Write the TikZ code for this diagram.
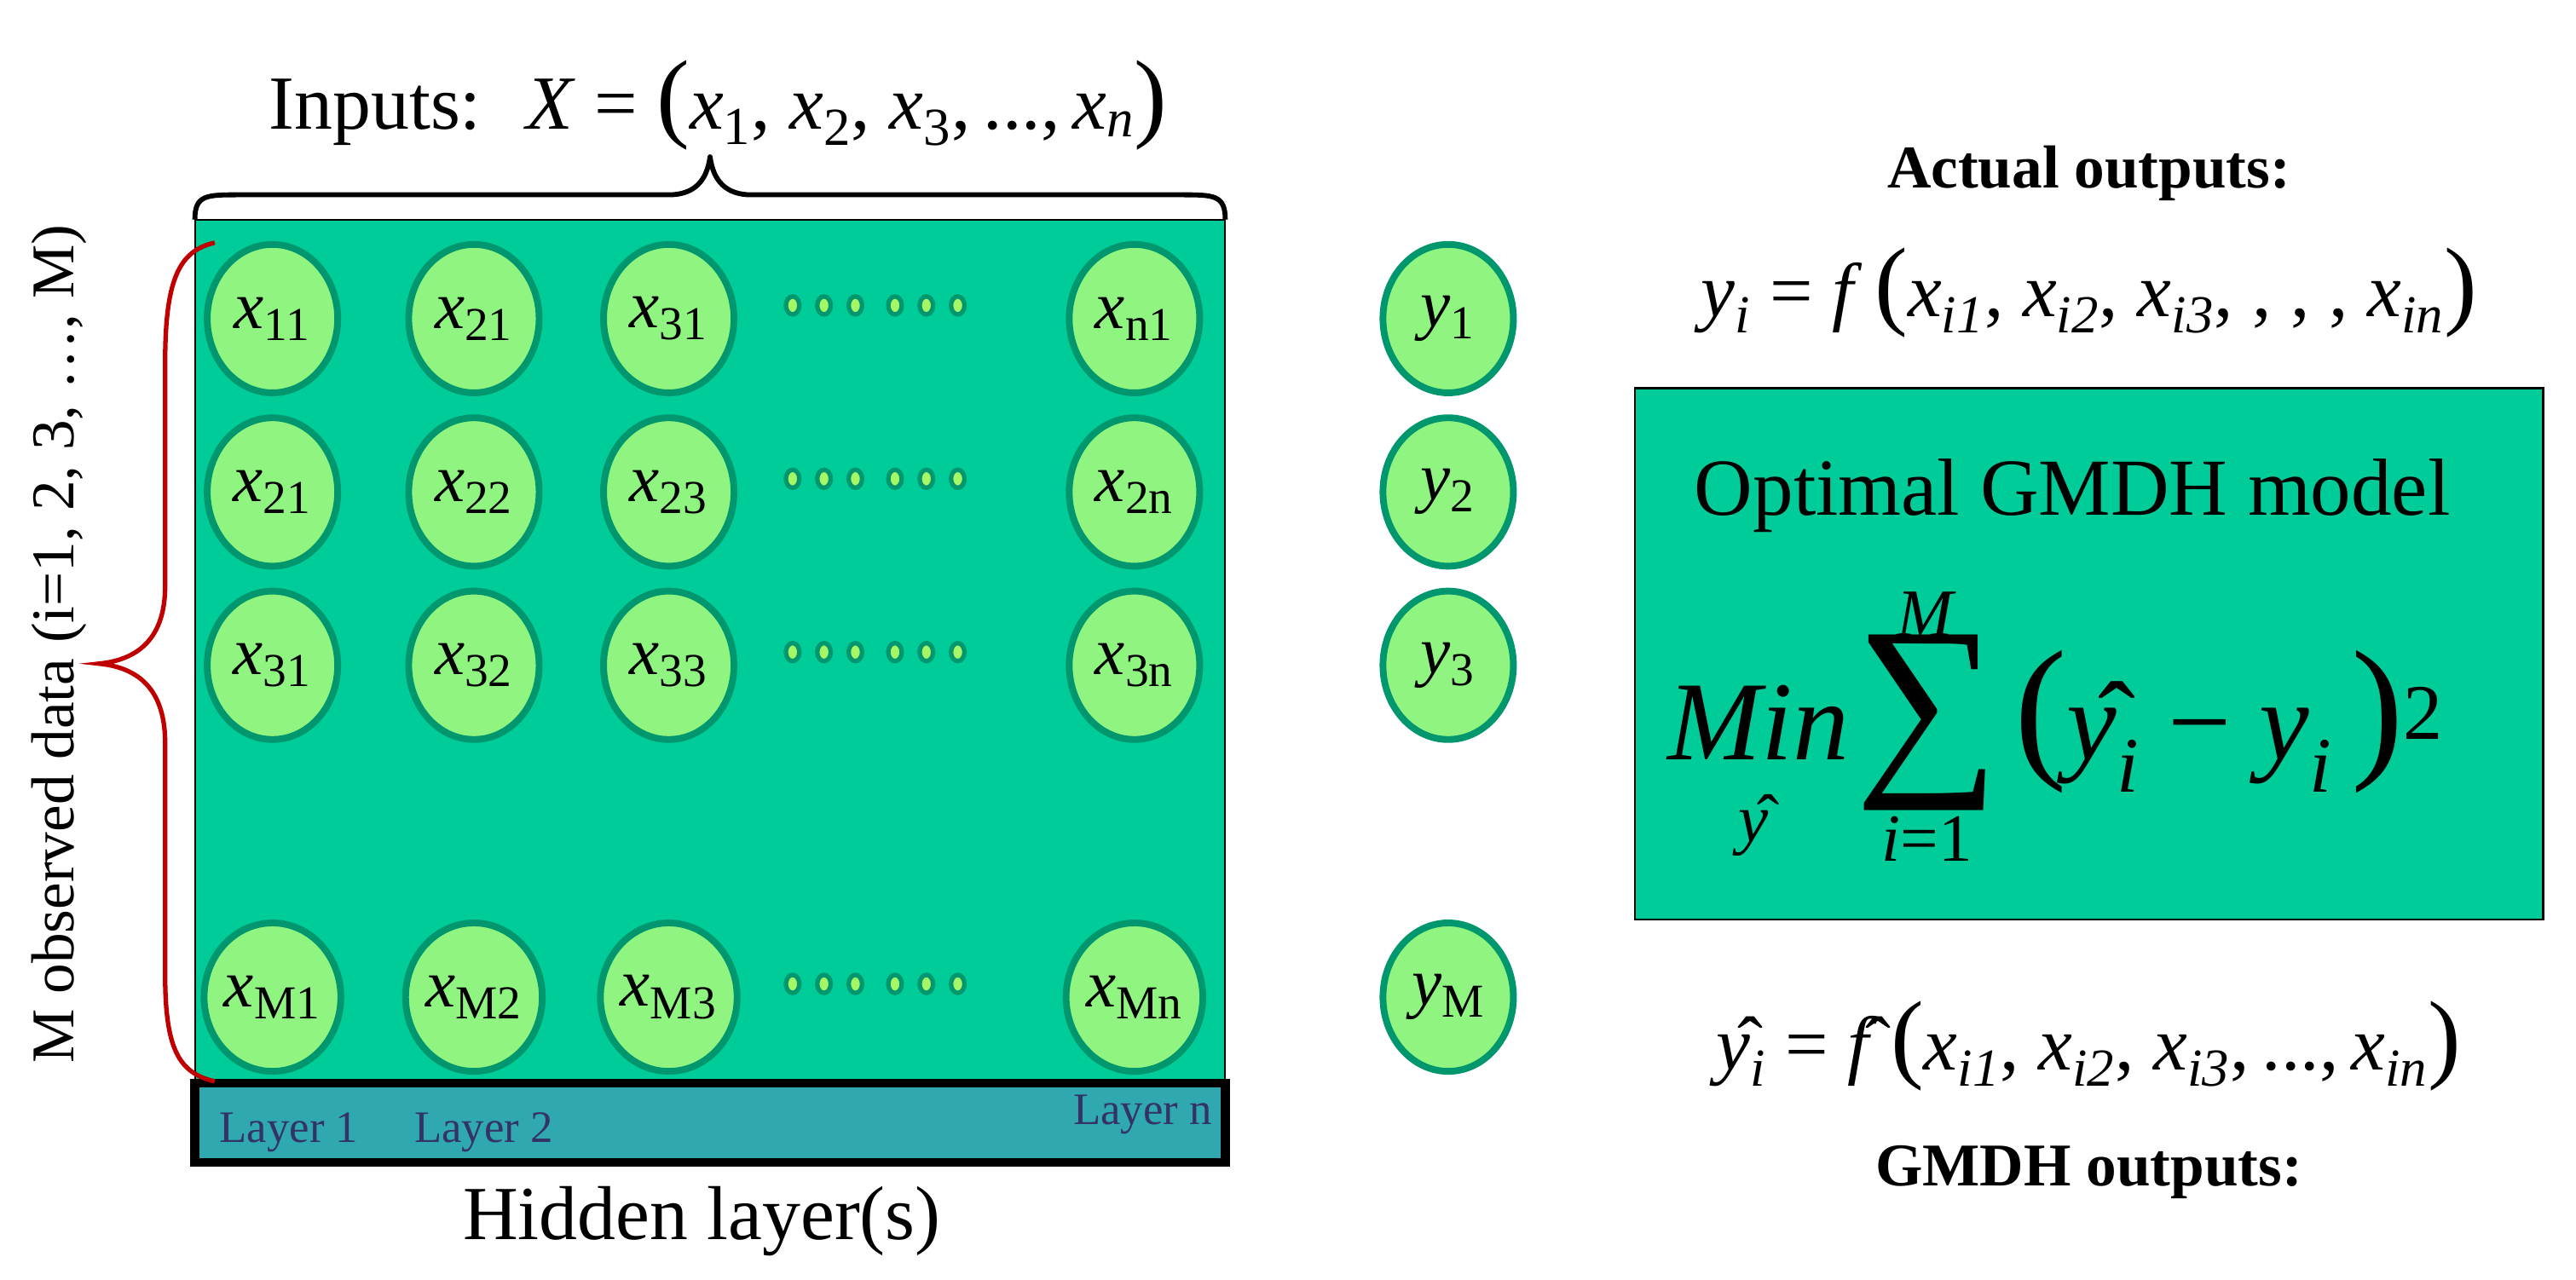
\documentclass[tikz,border=0pt]{standalone}
\usepackage{fontspec}
\setmainfont{Liberation Serif}
\usetikzlibrary{shapes.geometric}
\definecolor{bg}{RGB}{0,204,153}
\definecolor{cfill}{RGB}{144,245,128}
\definecolor{cline}{RGB}{0,150,110}
\definecolor{bar}{RGB}{48,168,176}
\definecolor{ltxt}{RGB}{51,51,102}
\definecolor{bred}{RGB}{192,0,0}
\newcommand{\fs}[1]{\fontsize{#1}{#1}\selectfont}
\newcommand{\vv}[2]{\textit{#1}\textsubscript{#2}}
\newcommand{\vi}[2]{\textit{#1}\textsubscript{\textit{#2}}}
\newcommand{\bp}[1]{{\fontsize{44}{44}\selectfont #1}}
\begin{document}
\begin{tikzpicture}[x=0.0258cm,y=-0.0258cm,
  cell/.style={ellipse,draw=cline,fill=cfill,line width=3pt,minimum width=58pt,minimum height=66pt,inner sep=0pt,font=\fs{30}},
  dot/.style={ellipse,draw=cline,fill=cfill!80!yellow,line width=2pt,minimum width=6pt,minimum height=8pt,inner sep=0pt},
  lay/.style={text=ltxt,font=\fs{20}},
  lbl/.style={font=\fs{34}}]
\useasboundingbox (0,0) rectangle (1560,775);
% main panel
\node[draw=black,line width=0.8pt,fill=bg,minimum width=624*0.0258cm,minimum height=522*0.0258cm,inner sep=0pt] (panel) at (430,394) {};
\node[draw=black,line width=4pt,fill=bar,minimum width=624*0.0258cm,minimum height=48*0.0258cm,inner sep=0pt] (bar) at (430,680) {};
\node[lay] (l1) at (175,686) {Layer 1};
\node[lay] (l2) at (293,686) {Layer 2};
\node[lay] (ln) at (692,675) {Layer n};
\node[lbl] (hid) at (425,740) {Hidden layer(s)};
% top brace
\coordinate (tb1) at (118,133); \coordinate (tb2) at (742,133); \coordinate (tbt) at (430,95);
\draw[line width=2.2pt,line join=round] (tb1) .. controls (118,118) and (125,118) .. (145,118) -- (405,118) .. controls (420,118) and (428,110) .. (tbt) .. controls (432,110) and (440,118) .. (455,118) -- (715,118) .. controls (735,118) and (742,118) .. (tb2);
\node[lbl,anchor=base] (inp) at (435,78) {Inputs: \ \textit{X} = \bp{(}\vv{x}{1}, \vv{x}{2}, \vv{x}{3},\,...,\,\vi{x}{n}\bp{)}};
% red brace
\coordinate (rb1) at (130,147); \coordinate (rb2) at (130,655); \coordinate (rbt) at (60,402);
\draw[bred,line width=2pt] (rb1) .. controls (108,152) and (100,170) .. (100,220) -- (100,355) .. controls (100,390) and (80,400) .. (rbt) .. controls (80,404) and (100,414) .. (100,450) -- (100,590) .. controls (100,635) and (108,650) .. (rb2);
\node[font=\fs{27},rotate=90] (mobs) at (36,390) {M observed data (i=1, 2, 3, \dots, M)};
% cells
\foreach \r/\yy/\a/\b/\c/\n in {1/193/11/21/31/n1, 2/298/21/22/23/2n, 3/403/31/32/33/3n, 4/604/M1/M2/M3/Mn}{
  \node[cell] (c1\r) at (165,\yy) {\vv{x}{\a}};
  \node[cell] (c2\r) at (287,\yy) {\vv{x}{\b}};
  \node[cell] (c3\r) at (405,\yy) {\vv{x}{\c}};
  \node[cell] (c4\r) at (687,\yy) {\vv{x}{\n}};
  \foreach \dx [count=\k] in {480,499,518,542,561,580}
    \node[dot] (d\r\k) at (\dx,\yy-8) {};
}
\node[cell] (y1) at (877,193) {\vv{y}{1}};
\node[cell] (y2) at (877,298) {\vv{y}{2}};
\node[cell] (y3) at (877,403) {\vv{y}{3}};
\node[cell] (yM) at (877,604) {\vv{y}{M}};
% right side
\node[font=\bfseries\fs{27}] (act) at (1265,105) {Actual outputs:};
\node[font=\fs{34},anchor=base] (yf) at (1265,192) {\vi{y}{i} = \textit{f}\,\bp{(}\vi{x}{i1}, \vi{x}{i2}, \vi{x}{i3}, , , , \vi{x}{in}\bp{)}};
\node[draw=black,line width=1pt,fill=bg,minimum width=550*0.0258cm,minimum height=322*0.0258cm,inner sep=0pt] (opt) at (1265,396) {};
\node[font=\fs{36}] (optt) at (1255,300) {Optimal GMDH model};
\node[font=\fs{50},anchor=base] (minw) at (1065,460) {\textit{Min}};
\node[font=\fs{30}] (miny) at (1062,500) {\^{\textit{y}}};
\node[font=\fs{90}] (sig) at (1167,438) {∑};
\node[font=\fs{30}] (sigM) at (1167,372) {\textit{M}};
\node[font=\fs{30}] (sigi) at (1167,508) {\textit{i}=1};
\node[font=\fs{50},anchor=base west] (sq) at (1215,460) {{\fontsize{70}{70}\selectfont(}\^{\textit{y}}\textsubscript{\textit{i}} − \vi{y}{i}\,{\fontsize{70}{70}\selectfont)}\textsuperscript{2}};
\node[font=\fs{34},anchor=base] (yh) at (1265,648) {\^{\textit{y}}\textsubscript{\textit{i}} = \^{\textit{f}}\,\bp{(}\vi{x}{i1}, \vi{x}{i2}, \vi{x}{i3},\,...,\,\vi{x}{in}\bp{)}};
\node[font=\bfseries\fs{27}] (gout) at (1265,710) {GMDH outputs:};
\end{tikzpicture}
\end{document}
